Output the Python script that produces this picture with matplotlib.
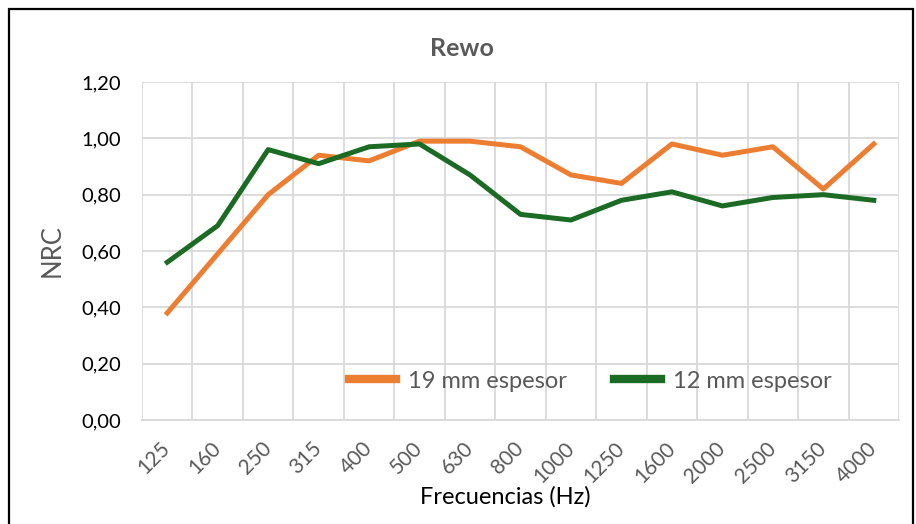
import matplotlib.pyplot as plt
from matplotlib.patches import Rectangle

plt.rcParams['font.family'] = ['Lato', 'DejaVu Sans']

# data
frecuencias = ["125", "160", "250", "315", "400", "500", "630", "800", "1000",
               "1250", "1600", "2000", "2500", "3150", "4000"]
nrc_19mm = [0.38, 0.59, 0.80, 0.94, 0.92, 0.99, 0.99, 0.97, 0.87,
            0.84, 0.98, 0.94, 0.97, 0.82, 0.98]
nrc_12mm = [0.56, 0.69, 0.96, 0.91, 0.97, 0.98, 0.87, 0.73, 0.71,
            0.78, 0.81, 0.76, 0.79, 0.80, 0.78]
y_ticks = [0.0, 0.2, 0.4, 0.6, 0.8, 1.0, 1.2]

ORANGE = "#ED7D31"
GREEN = "#1B6B24"
GREY = "#595959"
GRID = "#D9D9D9"

fig = plt.figure(figsize=(9.16, 5.24), dpi=100)
ax = fig.add_axes([142 / 916, 1 - 420 / 524, (899 - 142) / 916, (420 - 82) / 524])

x = range(len(frecuencias))
ax.plot(x, nrc_19mm, color=ORANGE, linewidth=3.6, label="19 mm espesor", zorder=3)
ax.plot(x, nrc_12mm, color=GREEN, linewidth=3.6, label="12 mm espesor", zorder=3)

ax.set_xlim(-0.5, len(frecuencias) - 0.5)
ax.set_ylim(0, 1.2)

# category gridlines sit between the points, like Excel
ax.set_xticks([i - 0.5 for i in range(len(frecuencias) + 1)], minor=True)
ax.set_xticks(list(x))
ax.set_xticklabels(frecuencias, rotation=45, ha="right", va="center",
                   rotation_mode="anchor", color=GREY, fontsize=15)
ax.tick_params(axis="x", which="both", length=0, pad=18)
ax.grid(True, axis="x", which="minor", color=GRID, linewidth=1.3)
ax.grid(True, axis="y", which="major", color=GRID, linewidth=1.3)
ax.set_axisbelow(True)

ax.set_yticks(y_ticks)
ax.set_yticklabels([f"{v:.2f}".replace(".", ",") for v in y_ticks], fontsize=14.5, color="black")
ax.tick_params(axis="y", length=0, pad=15)

for side in ("top", "right", "left"):
    ax.spines[side].set_visible(False)
ax.spines["bottom"].set_color(GRID)
ax.spines["bottom"].set_linewidth(1.3)

ax.set_ylabel("NRC", fontsize=18.5, color=GREY, labelpad=12)
fig.text(505 / 916, 1 - 497 / 524, "Frecuencias (Hz)", ha="center", va="center",
         fontsize=17, color="black")

fig.text(462 / 916, 1 - 48 / 524, "Rewo", ha="center", va="center",
         fontsize=18, fontweight="bold", color=GREY)

leg = ax.legend(loc="center", bbox_to_anchor=(590 / 916, 1 - 381 / 524),
                bbox_transform=fig.transFigure, ncol=2, frameon=False,
                fontsize=17, handlelength=2.0, columnspacing=2.0, handletextpad=0.5)
for txt in leg.get_texts():
    txt.set_color(GREY)
for line in leg.get_lines():
    line.set_linewidth(6)

# outer black frame of the chart
fig.add_artist(Rectangle((9 / 916, -0.05), (913 - 9) / 916, 1.05 - 9 / 524,
                         transform=fig.transFigure, fill=False,
                         edgecolor="black", linewidth=1.6))

fig.savefig("out.png", dpi=100)
